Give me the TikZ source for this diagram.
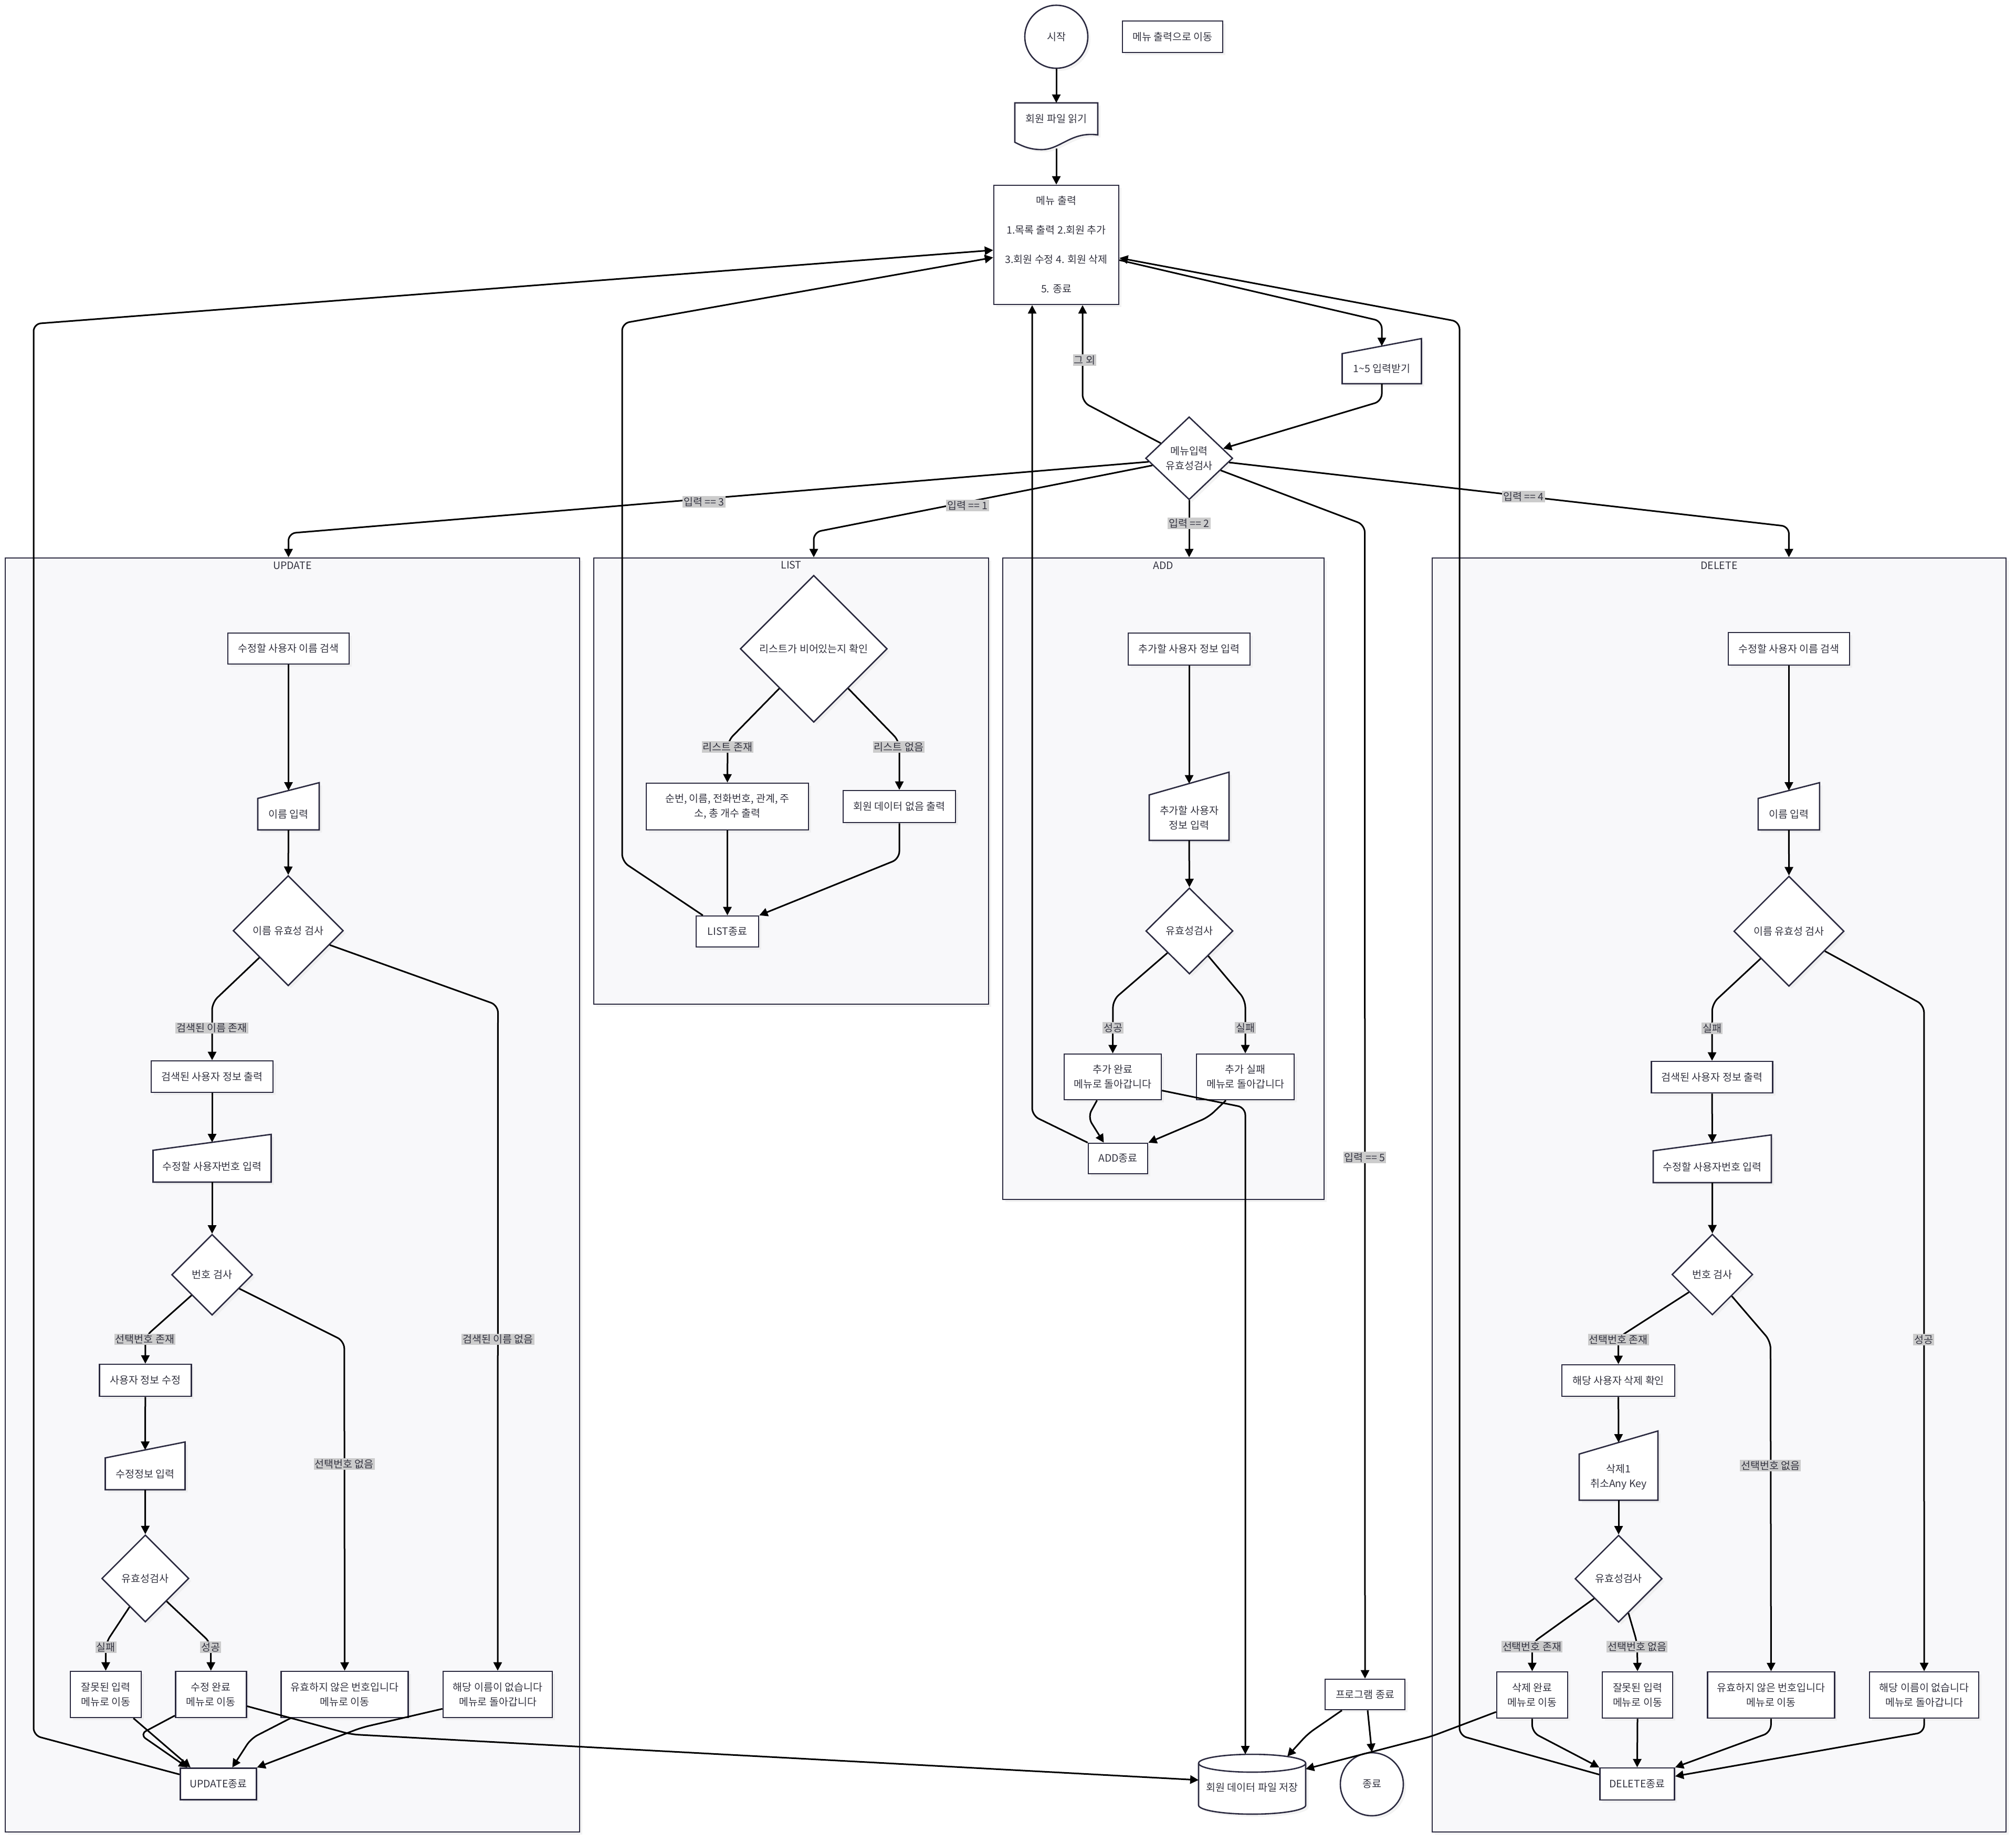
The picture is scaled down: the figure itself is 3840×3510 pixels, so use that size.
\documentclass[tikz,border=0pt]{standalone}
\usepackage{fontspec}
\setmainfont{Noto Sans CJK KR}
\usetikzlibrary{shapes.geometric, arrows.meta, shadows, calc}

\definecolor{inkc}{HTML}{2B2A40}
\definecolor{txtc}{HTML}{333340}
\definecolor{clfillc}{HTML}{F8F8FA}
\definecolor{lblbgc}{HTML}{CCCCCC}

\tikzset{
  xfont/.style={font=\fontsize{19.5pt}{28pt}\selectfont, text=txtc, align=center},
  xshd/.style={drop shadow={shadow xshift=5pt, shadow yshift=-5pt, fill=black!9}},
  xbox/.style={xfont, rectangle, draw=inkc, line width=2.6pt, fill=white, xshd, inner sep=0pt},
  xdec/.style={xfont, diamond, aspect=1, draw=inkc, line width=2.6pt, fill=white, xshd, inner sep=0pt},
  xterm/.style={xfont, circle, draw=inkc, line width=2.6pt, fill=white, xshd, inner sep=0pt, minimum size=120},
  xplain/.style={xfont, rectangle, inner sep=0pt, outer sep=0pt},
  xshape/.style={draw=inkc, line width=2.6pt, fill=white, xshd},
  xclus/.style={rectangle, draw=inkc, line width=2.6pt, fill=clfillc, xshd, inner sep=0pt},
  xcltitle/.style={xfont},
  xflow/.style={line width=3pt, draw=black, rounded corners=14pt, -{Triangle[length=16pt,width=16pt]}},
  xlbl/.style={xfont, fill=lblbgc, inner sep=2pt},
}

% manual-input symbol: name, centre x, top y, width, height, text
\newcommand{\maninput}[6]{%
  \path[xshape] ({#2-#4/2},{#3+#5/3}) -- ({#2+#4/2},{#3}) -- ({#2+#4/2},{#3+#5}) -- ({#2-#4/2},{#3+#5}) -- cycle;
  \node[xplain, minimum width=#4, minimum height={2*#5/3}] (#1) at (#2,{#3+2*#5/3}) {#6};
  \coordinate (#1-top) at (#2,{#3+#5/6});
}

\begin{document}
\begin{tikzpicture}[x=1pt,y=-1pt]
\useasboundingbox (0,0) rectangle (3840,3510);
\fill[white] (0,0) rectangle (3840,3510);

% ---------- subgraph frames ----------
\node[xclus, minimum width=1094, minimum height=2427] (ucl) at (557,2276.5) {};
\node[xcltitle] (ucl-t) at (557,1077) {UPDATE};
\node[xclus, minimum width=752, minimum height=850] (lcl) at (1507,1488) {};
\node[xcltitle] (lcl-t) at (1507,1076) {LIST};
\node[xclus, minimum width=612, minimum height=1222] (acl) at (2216,1674) {};
\node[xcltitle] (acl-t) at (2216,1077) {ADD};
\node[xclus, minimum width=1093, minimum height=2427] (dcl) at (3274.5,2276.5) {};
\node[xcltitle] (dcl-t) at (3274.5,1077) {DELETE};

% ---------- main loop ----------
\node[xterm] (start) at (2012,70) {시작};
\node[xbox, minimum width=191, minimum height=60] (goto) at (2233.5,70) {메뉴 출력으로 이동};
\path[xshape] (1933,196) -- (2091,196) -- (2091,257) .. controls (2040,250) and (2020,285) .. (1984,285) .. controls (1960,285) and (1945,277) .. (1933,271) -- cycle;
\node[xplain, minimum width=158, minimum height=60] (readfile) at (2012,226) {회원 파일 읽기};
\coordinate (readfile-b) at (2012,283);
\node[xbox, minimum width=238, minimum height=227] (menu) at (2012,466.5) {메뉴 출력\\[28pt]1.목록 출력 2.회원 추가\\[28pt]3.회원 수정 4. 회원 삭제\\[28pt]5. 종료};
\maninput{inp}{2632}{645}{151}{86}{1\textasciitilde5 입력받기}
\node[xdec, minimum width=166, minimum height=158] (menudec) at (2265,873) {메뉴입력\\유효성검사};

% ---------- UPDATE ----------
\node[xbox, minimum width=231, minimum height=59] (u1) at (549.5,1235.5) {수정할 사용자 이름 검색};
\maninput{u2}{549.5}{1491}{117}{90}{이름 입력}
\node[xdec, minimum width=210, minimum height=210] (u3) at (549,1773) {이름 유효성 검사};
\node[xbox, minimum width=232, minimum height=60] (u4) at (404,2051) {검색된 사용자 정보 출력};
\maninput{u5}{404}{2161}{225}{91}{수정할 사용자번호 입력}
\node[xdec, minimum width=154, minimum height=154] (u6) at (404,2428.5) {번호 검사};
\node[xbox, minimum width=175, minimum height=61] (u7) at (276.8,2629.6) {사용자 정보 수정};
\maninput{u8}{276.5}{2747}{152}{91}{수정정보 입력}
\node[xdec, minimum width=166, minimum height=166] (u9) at (276.8,3007) {유효성검사};
\node[xbox, minimum width=135, minimum height=88] (u10) at (201.4,3228) {잘못된 입력\\메뉴로 이동};
\node[xbox, minimum width=135, minimum height=88] (u11) at (401.7,3228) {수정 완료\\메뉴로 이동};
\node[xbox, minimum width=242, minimum height=88] (u12) at (656.5,3228) {유효하지 않은 번호입니다\\메뉴로 이동};
\node[xbox, minimum width=208, minimum height=88] (u13) at (948,3228) {해당 이름이 없습니다\\메뉴로 돌아갑니다};
\node[xbox, minimum width=145, minimum height=60] (uend) at (415.7,3398.3) {UPDATE종료};

% ---------- LIST ----------
\node[xdec, minimum width=280, minimum height=280] (l1) at (1550,1236) {리스트가 비어있는지 확인};
\node[xbox, minimum width=309, minimum height=89] (l2) at (1385.5,1536.5) {순번, 이름, 전화번호, 관계, 주\\소, 총 개수 출력};
\node[xbox, minimum width=214, minimum height=61] (l3) at (1713,1536.5) {회원 데이터 없음 출력};
\node[xbox, minimum width=119, minimum height=59] (lend) at (1385.5,1774.5) {LIST종료};

% ---------- ADD ----------
\node[xbox, minimum width=232, minimum height=61] (a1) at (2265,1236.5) {추가할 사용자 정보 입력};
\maninput{a2}{2265}{1471}{152}{130}{추가할 사용자\\정보 입력}
\node[xdec, minimum width=166, minimum height=164] (a3) at (2265.5,1773.5) {유효성검사};
\node[xbox, minimum width=185, minimum height=87] (a4) at (2119.5,2051.5) {추가 완료\\메뉴로 돌아갑니다};
\node[xbox, minimum width=186, minimum height=87] (a5) at (2372,2051.5) {추가 실패\\메뉴로 돌아갑니다};
\node[xbox, minimum width=113, minimum height=58] (aend) at (2129.5,2207) {ADD종료};

% ---------- exit and storage ----------
\node[xbox, minimum width=152, minimum height=58] (pend) at (2600,3228) {프로그램 종료};
\path[xshape] (2283,3359) -- (2283,3439) arc[start angle=180, end angle=360, x radius=102pt, y radius=17pt] -- (2487,3359) arc[start angle=0, end angle=180, x radius=102pt, y radius=17pt] -- cycle;
\draw[draw=inkc, line width=2.6pt] (2283,3359) arc[start angle=180, end angle=360, x radius=102pt, y radius=17pt];
\node[xplain, minimum width=204, minimum height=126] (db) at (2385,3405) {회원 데이터 파일 저장};
\node[xterm] (stop) at (2613,3399) {종료};

% ---------- DELETE ----------
\node[xbox, minimum width=231, minimum height=62] (d1) at (3407.4,1236) {수정할 사용자 이름 검색};
\maninput{d2}{3407.4}{1491}{117}{90}{이름 입력}
\node[xdec, minimum width=210, minimum height=210] (d3) at (3407.5,1774) {이름 유효성 검사};
\node[xbox, minimum width=231, minimum height=60] (d4) at (3261,2052) {검색된 사용자 정보 출력};
\maninput{d5}{3261.5}{2162}{225}{91}{수정할 사용자번호 입력}
\node[xdec, minimum width=154, minimum height=154] (d6) at (3261.6,2428) {번호 검사};
\node[xbox, minimum width=215, minimum height=60] (d7) at (3082.6,2630) {해당 사용자 삭제 확인};
\maninput{d8}{3083}{2726}{150}{132}{삭제1\\취소Any Key}
\node[xdec, minimum width=166, minimum height=166] (d9) at (3083,3007.5) {유효성검사};
\node[xbox, minimum width=135, minimum height=88] (d10) at (2918.4,3229) {삭제 완료\\메뉴로 이동};
\node[xbox, minimum width=134, minimum height=88] (d11) at (3119,3229) {잘못된 입력\\메뉴로 이동};
\node[xbox, minimum width=242, minimum height=88] (d12) at (3373.4,3229) {유효하지 않은 번호입니다\\메뉴로 이동};
\node[xbox, minimum width=208, minimum height=88] (d13) at (3665,3229) {해당 이름이 없습니다\\메뉴로 돌아갑니다};
\node[xbox, minimum width=142, minimum height=61] (dend) at (3118.4,3398.6) {DELETE종료};

% ---------- connectors: main loop ----------
\draw[xflow] (start.south) -- (readfile.north);
\draw[xflow] (readfile-b) -- (menu.north);
\draw[xflow] ([yshift=-29pt]menu.east) -- (2632,612) -- (inp-top);
\draw[xflow] (inp.south) -- (2632,764) -- (menudec.16);
\draw[xflow] (menudec.152) -- (2062,766) -- ([xshift=50pt]menu.south);
\draw[xflow] (menudec.185) -- (549.5,1016) -- (u1 |- ucl.north);
\draw[xflow] (menudec.191) -- (1550,1014) -- (l1 |- lcl.north);
\draw[xflow] (menudec.south) -- (a1 |- acl.north);
\draw[xflow] (menudec.354) -- (3407.4,1003) -- (d1 |- dcl.north);
\draw[xflow] (menudec.339) -- (2599.5,1000) -- (pend.north);

% ---------- connectors: UPDATE ----------
\draw[xflow] (u1.south) -- (u2-top);
\draw[xflow] (u2.south) -- (u3.north);
\draw[xflow] (u3.223) -- (404,1910) -- (u4.north);
\draw[xflow] (u3.341) -- (948.5,1915) -- (u13.north);
\draw[xflow] (u4.south) -- (u5-top);
\draw[xflow] (u5.south) -- (u6.north);
\draw[xflow] (u6.225) -- (277,2546) -- (u7.north);
\draw[xflow] (u6.333) -- (655.8,2555) -- (u12.north);
\draw[xflow] (u7.south) -- (u8-top);
\draw[xflow] (u8.south) -- (u9.north);
\draw[xflow] (u9.241) -- (201.4,3130) -- (u10.north);
\draw[xflow] (u9.313) -- (401.7,3130) -- (u11.north);
\draw[xflow] ([xshift=-16pt]u10.south east) -- ([xshift=21pt]uend.north west);
\draw[xflow] ([yshift=5pt]u11.south west) -- (266,3304) -- ([xshift=15pt]uend.north west);
\draw[xflow] ([xshift=19pt]u12.south west) -- (478,3312) -- ([xshift=-47pt]uend.north east);
\draw[xflow] ([yshift=18pt]u13.south west) -- (689,3291) -- (uend.north east);
\draw[xflow] ([yshift=18pt]uend.west) -- (64,3306) -- (64,617) -- ([yshift=-10pt]menu.west);
\draw[xflow] ([yshift=23pt]u11.south east) -- (669,3304) -- ([yshift=14pt]db.west);

% ---------- connectors: LIST ----------
\draw[xflow] (l1.229) -- (1386,1412) -- (l2.north);
\draw[xflow] (l1.311) -- (1713,1412) -- (l3.north);
\draw[xflow] (l2.south) -- (lend.north);
\draw[xflow] (l3.south) -- (1713,1636) -- (lend.north east);
\draw[xflow] ([xshift=14pt]lend.north west) -- (1185,1641) -- (1185,616) -- ([yshift=-24pt]menu.west);

% ---------- connectors: ADD ----------
\draw[xflow] (a1.south) -- (a2-top);
\draw[xflow] (a2.south) -- (a3.north);
\draw[xflow] (a3.225) -- (2120,1905) -- (a4.north);
\draw[xflow] (a3.307) -- (2372,1905) -- (a5.north);
\draw[xflow] ([xshift=-30pt]a4.south) -- (2072,2128) -- ([xshift=-27pt]aend.north);
\draw[xflow] ([xshift=-37pt]a5.south) -- (2302,2128) -- (aend.north east);
\draw[xflow] (aend.north west) -- (1966,2125) -- ([xshift=-46pt]menu.south);
\draw[xflow] ([yshift=-26pt]a4.east) -- (2372,2110) -- ([xshift=-13pt]db.north);

% ---------- connectors: DELETE ----------
\draw[xflow] (d1.south) -- (d2-top);
\draw[xflow] (d2.south) -- (d3.north);
\draw[xflow] (d3.224) -- (3261.3,1912) -- (d4.north);
\draw[xflow] (d3.331) -- (3664.8,1915) -- (d13.north);
\draw[xflow] (d4.south) -- (d5-top);
\draw[xflow] (d5.south) -- (d6.north);
\draw[xflow] (d6.217) -- (3082.6,2548) -- (d7.north);
\draw[xflow] (d6.312) -- (3372.4,2555) -- (d12.north);
\draw[xflow] (d7.south) -- (d8-top);
\draw[xflow] (d8.south) -- (d9.north);
\draw[xflow] (d9.219) -- (2918.4,3130) -- (d10.north);
\draw[xflow] (d9.286) -- (3118.4,3130) -- (d11.north);
\draw[xflow] (d10.south) -- (2918.4,3300) -- (dend.north west);
\draw[xflow] (d11.south) -- (dend.north);
\draw[xflow] (d12.south) -- (3373,3300) -- (dend.north east);
\draw[xflow] (d13.south) -- (3665,3300) -- ([yshift=-17pt]dend.north east);
\draw[xflow] ([yshift=18pt]dend.west) -- (2780,3306) -- (2780,613) -- ([yshift=-25pt]menu.east);
\draw[xflow] ([yshift=13pt]d10.south west) -- (2726,3308) -- ([yshift=35pt]db.east);

% ---------- connectors: exit ----------
\draw[xflow] ([xshift=-44pt]pend.south) -- (2491,3303) -- ([xshift=67pt,yshift=-4pt]db.north);
\draw[xflow] ([xshift=5pt]pend.south) -- (stop.north);

% ---------- connector labels ----------
\node[xlbl] (e-else) at (2066,686) {그 외};
\node[xlbl] (e-3) at (1341,956) {입력 == 3};
\node[xlbl] (e-1) at (1843,963) {입력 == 1};
\node[xlbl] (e-2) at (2265,997) {입력 == 2};
\node[xlbl] (e-4) at (2902,946) {입력 == 4};
\node[xlbl] (e-5) at (2599.5,2205) {입력 == 5};
\node[xlbl] (e-l1) at (1386,1423) {리스트 존재};
\node[xlbl] (e-l2) at (1712,1423) {리스트 없음};
\node[xlbl] (e-a1) at (2120,1958) {성공};
\node[xlbl] (e-a2) at (2372,1958) {실패};
\node[xlbl] (e-u1) at (403.4,1958.4) {검색된 이름 존재};
\node[xlbl] (e-u2) at (948.5,2551.5) {검색된 이름 없음};
\node[xlbl] (e-u3) at (276,2551.5) {선택번호 존재};
\node[xlbl] (e-u4) at (655.8,2789) {선택번호 없음};
\node[xlbl] (e-u5) at (201.8,3138) {실패};
\node[xlbl] (e-u6) at (401.3,3138) {성공};
\node[xlbl] (e-d1) at (3261.3,1959) {실패};
\node[xlbl] (e-d2) at (3664,2552) {성공};
\node[xlbl] (e-d3) at (3082.5,2552) {선택번호 존재};
\node[xlbl] (e-d4) at (3372.4,2792) {선택번호 없음};
\node[xlbl] (e-d5) at (2918,3137) {선택번호 존재};
\node[xlbl] (e-d6) at (3118.4,3137) {선택번호 없음};
\end{tikzpicture}
\end{document}
